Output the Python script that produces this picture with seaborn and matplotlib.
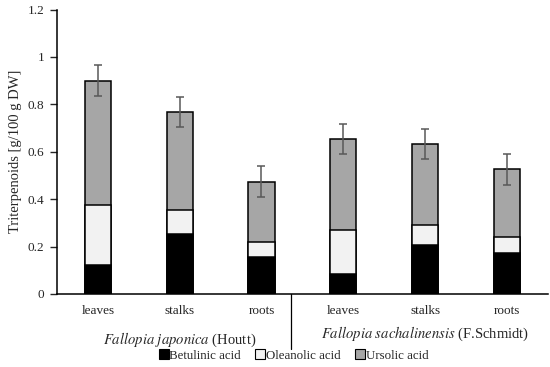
import numpy as np
import pandas as pd
import seaborn as sns
import matplotlib.pyplot as plt
from matplotlib.lines import Line2D
import matplotlib.transforms as mtransforms

# values (g/100 g DW)
organs = ["leaves", "stalks", "roots", "leaves", "stalks", "roots"]
species = ["japonica"] * 3 + ["sachalinensis"] * 3
betulinic = [0.122, 0.252, 0.155, 0.086, 0.208, 0.172]
oleanolic = [0.253, 0.102, 0.064, 0.184, 0.083, 0.070]
ursolic = [0.525, 0.415, 0.255, 0.383, 0.343, 0.284]
total_err = [0.064, 0.064, 0.066, 0.063, 0.063, 0.065]

df = pd.DataFrame({"organ": organs, "species": species,
                   "Betulinic acid": betulinic, "Oleanolic acid": oleanolic,
                   "Ursolic acid": ursolic, "err": total_err})
df["slot"] = [f"{s}_{o}" for s, o in zip(df.species, df.organ)]
df["b"] = df["Betulinic acid"]
df["bo"] = df["b"] + df["Oleanolic acid"]
df["total"] = df["bo"] + df["Ursolic acid"]

sns.set_style("white")
plt.rcParams["font.family"] = ["Liberation Serif", "DejaVu Serif"]

fig = plt.figure(figsize=(5.5, 3.67), dpi=100)
ax = fig.add_axes([0.1036, 0.199, 0.8924, 0.775])

cols = {"total": "#a6a6a6", "bo": "#f2f2f2", "b": "#000000"}
for key in ["total", "bo", "b"]:
    sns.barplot(data=df, x="slot", y=key, color=cols[key], width=0.32,
                edgecolor="black", linewidth=1.1, saturation=1, ax=ax)

ax.errorbar(np.arange(len(df)), df["total"], yerr=df["err"], fmt="none",
            ecolor="#595959", elinewidth=1.1, capsize=3, capthick=1.1, zorder=5)

ax.set_xlim(-0.5, len(df) - 0.5)
ax.set_ylim(0, 1.2)
ax.set_yticks(np.arange(0, 1.21, 0.2))
ax.set_yticklabels(["0", "0.2", "0.4", "0.6", "0.8", "1", "1.2"], fontsize=9.5)
ax.set_xticks(np.arange(len(df)))
ax.set_xticklabels(organs, fontsize=9.5)
ax.tick_params(axis="x", length=0, pad=8)
ax.tick_params(axis="y", length=5, width=1, direction="out", left=True, pad=4)
ax.set_xlabel("")
ax.set_ylabel("Triterpenoids [g/100 g DW]", fontsize=10.5, labelpad=4)
for s in ["top", "right"]:
    ax.spines[s].set_visible(False)
for s in ["left", "bottom"]:
    ax.spines[s].set_color("black")
    ax.spines[s].set_linewidth(1.1)

# group separator and group labels
trans = mtransforms.blended_transform_factory(ax.transData, ax.transAxes)
ax.plot([2.36, 2.36], [0, -0.195], transform=trans, color="black", lw=0.9,
        clip_on=False)
ax.text(1, -0.16, r"$\it{Fallopia\ japonica}$ (Houtt)", transform=trans,
        ha="center", va="center", fontsize=10.5, math_fontfamily="stix")
ax.text(4, -0.14, r"$\it{Fallopia\ sachalinensis}$ (F.Schmidt)", transform=trans,
        ha="center", va="center", fontsize=10.5, math_fontfamily="stix")

handles = [Line2D([], [], ls="", marker="s", markersize=7, markerfacecolor=c,
                  markeredgecolor="black", markeredgewidth=0.8)
           for c in ["#000000", "#f2f2f2", "#a6a6a6"]]
fig.legend(handles, ["Betulinic acid", "Oleanolic acid", "Ursolic acid"],
           loc="center", bbox_to_anchor=(0.535, 0.03), ncol=3, frameon=False,
           fontsize=9.3, handlelength=0.6, handletextpad=0.15, columnspacing=1.2,
           borderpad=0)

fig.savefig("out.png", dpi=100)
